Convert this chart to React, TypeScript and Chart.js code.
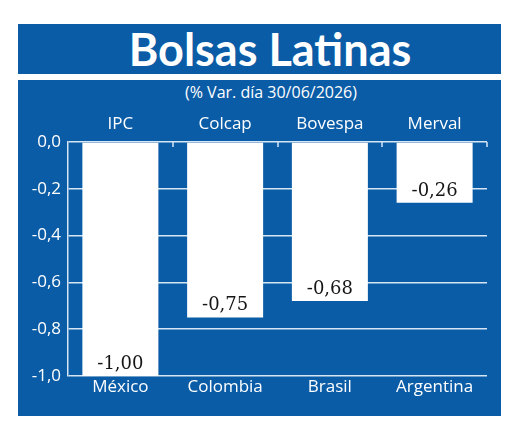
import React, { useEffect, useRef } from "react";
import { Chart, registerables } from "chart.js";

Chart.register(...registerables);

const indices = ["IPC", "Colcap", "Bovespa", "Merval"];
const countries = ["México", "Colombia", "Brasil", "Argentina"];
const values = [-1.0, -0.75, -0.68, -0.26];
const title = "Bolsas Latinas";
const subtitle = "(% Var. día 30/06/2026)";

const BLUE = "#0b5ca6";
const GRID = "#d6e6f4";
const SANS = "'Open Sans', 'Noto Sans', sans-serif";

const fmt = (v: number, d: number) => Number(v).toFixed(d).replace(".", ",");

export default function App() {
  const ref = useRef<HTMLCanvasElement | null>(null);

  useEffect(() => {
    if (!ref.current) return;
    const valueLabels = {
      id: "valueLabels",
      afterDatasetsDraw(chart: any) {
        const ctx = chart.ctx;
        const meta = chart.getDatasetMeta(0);
        ctx.save();
        ctx.fillStyle = "#151515";
        ctx.font = "18px 'DejaVu Serif', serif";
        ctx.textAlign = "center";
        ctx.textBaseline = "middle";
        meta.data.forEach((bar: any, i: number) => {
          ctx.fillText(fmt(values[i], 2), bar.x, bar.y - 12);
        });
        ctx.restore();
      },
    };
    const topTicks = {
      id: "topTicks",
      afterDraw(chart: any) {
        const { ctx, chartArea } = chart;
        const n = indices.length;
        const w = (chartArea.right - chartArea.left) / n;
        ctx.save();
        ctx.strokeStyle = GRID;
        ctx.lineWidth = 1.5;
        for (let i = 1; i <= n; i++) {
          const x = Math.round(chartArea.left + i * w);
          ctx.beginPath();
          ctx.moveTo(x, chartArea.top);
          ctx.lineTo(x, chartArea.top + 5);
          ctx.stroke();
        }
        ctx.restore();
      },
    };
    const chart = new Chart(ref.current, {
      type: "bar",
      data: {
        labels: countries,
        datasets: [
          {
            data: values,
            backgroundColor: "#ffffff",
            borderWidth: 0,
            barPercentage: 0.8,
            categoryPercentage: 0.907,
          },
        ],
      },
      options: {
        responsive: false,
        animation: false,
        layout: { padding: { left: 0, right: 14, top: 0, bottom: 0 } },
        plugins: {
          legend: { display: false },
          tooltip: { enabled: false },
          title: { display: false },
        },
        scales: {
          x: {
            position: "bottom",
            grid: { display: false, drawTicks: false },
            border: { display: false },
            ticks: { color: "#ffffff", font: { family: SANS, size: 17 }, padding: 1 },
            afterFit: (s: any) => {
              s.height = 40;
            },
          },
          xTop: {
            type: "category",
            labels: indices,
            position: "top",
            grid: { display: false, drawTicks: false },
            border: { display: false },
            ticks: { color: "#ffffff", font: { family: SANS, size: 17 }, padding: 8 },
            afterFit: (s: any) => {
              s.height = 62;
            },
          },
          y: {
            min: -1,
            max: 0,
            ticks: {
              stepSize: 0.2,
              color: "#ffffff",
              font: { family: SANS, size: 17 },
              padding: 7,
              callback: (v: any) => fmt(Number(v), 1),
            },
            grid: { color: GRID, lineWidth: 1.5, drawTicks: false },
            border: { color: GRID, width: 1.5 },
            afterFit: (s: any) => {
              s.width = 50;
            },
          },
        },
      } as any,
      plugins: [valueLabels, topTicks],
    });
    return () => chart.destroy();
  }, []);

  return (
    <div
      style={{
        position: "fixed",
        left: 0,
        top: 0,
        width: 520,
        height: 433,
        background: "#ffffff",
        overflow: "hidden",
      }}
    >
      <div
        style={{
          position: "absolute",
          left: 18,
          top: 24,
          width: 483,
          height: 50,
          background: BLUE,
        }}
      >
        <div
          style={{
            position: "absolute",
            left: 0,
            top: 0,
            width: 504,
            height: 50,
            lineHeight: "50px",
            textAlign: "center",
            color: "#ffffff",
            fontFamily: "Lato, 'Open Sans', sans-serif",
            fontWeight: 700,
            fontSize: 45,
          }}
        >
          {title}
        </div>
      </div>
      <div
        style={{
          position: "absolute",
          left: 18,
          top: 80,
          width: 483,
          height: 336,
          background: BLUE,
        }}
      >
        <div
          style={{
            position: "absolute",
            left: 0,
            top: 2,
            width: 506,
            textAlign: "center",
            color: "#ffffff",
            fontFamily: SANS,
            fontSize: 16,
            lineHeight: "20px",
          }}
        >
          {subtitle}
        </div>
        <canvas
          ref={ref}
          width={483}
          height={336}
          style={{ position: "absolute", left: 0, top: 0, width: 483, height: 336 }}
        />
      </div>
    </div>
  );
}
